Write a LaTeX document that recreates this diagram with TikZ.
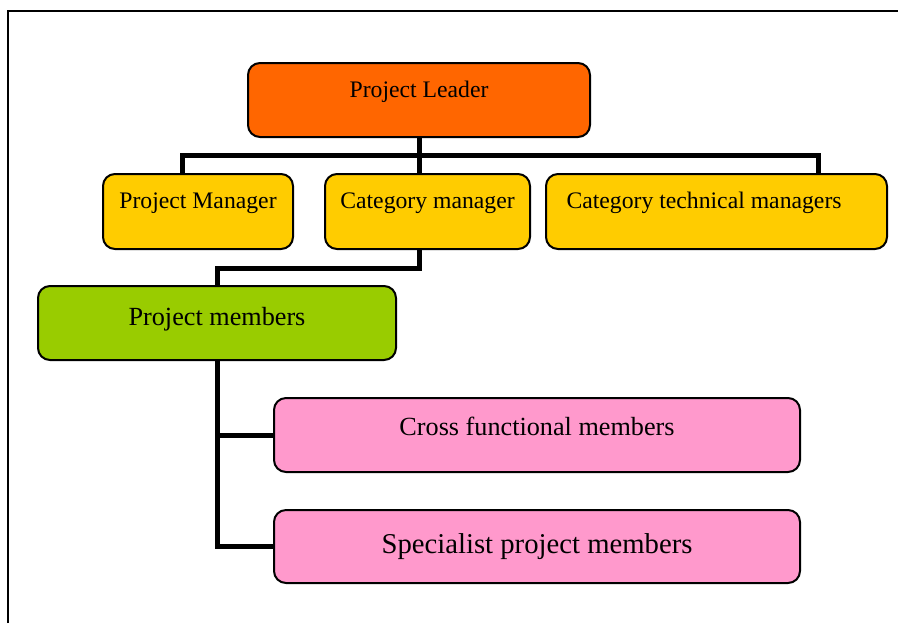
\documentclass[tikz,border=0pt]{standalone}
\usepackage{fontspec}
\setmainfont{Liberation Serif}
\usepackage{tikz}
\usepackage{xcolor}
\definecolor{leadorange}{HTML}{FF6600}
\definecolor{mgryellow}{HTML}{FFCC00}
\definecolor{memgreen}{HTML}{99CC00}
\definecolor{subpink}{HTML}{FF99CC}

\begin{document}
\begin{tikzpicture}[
  x=0.5pt, y=-0.5pt,
  block/.style={rectangle, draw=black, line width=1pt, rounded corners=6pt, align=center, text height=8pt, font=\fontsize{11.85pt}{14pt}\selectfont},
  link/.style={draw=black, line width=2.5pt},
  frame/.style={draw=black, line width=1.2pt}
]
  \useasboundingbox (0,0) rectangle (898,623);
  \draw [frame] (8,623) -- (8,11) -- (898,11);

  \node [block, fill=leadorange, minimum width=171pt, minimum height=37pt, text depth=11pt] (leader) at (419,100) {Project Leader};
  \node [block, fill=mgryellow, minimum width=95pt, minimum height=37.5pt, text depth=11.5pt] (pm) at (198,211.5) {Project Manager};
  \node [block, fill=mgryellow, minimum width=102.5pt, minimum height=37.5pt, text depth=11.5pt] (catman) at (427.5,211.5) {Category manager};
  \node [block, fill=mgryellow, minimum width=170.5pt, minimum height=37.5pt, text depth=11.5pt, text width=150pt, align=flush left] (cattech) at (716.5,211.5) {Category technical managers};
  \node [block, fill=memgreen, minimum width=179pt, minimum height=37pt, text depth=6pt, font=\fontsize{13.1pt}{15pt}\selectfont] (members) at (217,323) {Project members};
  \node [block, fill=subpink, minimum width=263pt, minimum height=37pt, text depth=8pt, font=\fontsize{13.1pt}{15pt}\selectfont] (cross) at (537,435) {Cross functional members};
  \node [block, fill=subpink, minimum width=263pt, minimum height=36.5pt, text depth=1.5pt, font=\fontsize{14.35pt}{17pt}\selectfont] (specialist) at (537,546.5) {Specialist project members};

  \coordinate (bus) at (419,155);

  \draw [link] (leader.south) -- (catman.north -| leader.south);
  \draw [link] ([xshift=-8pt]pm.north) |- (bus) -| ([xshift=50.75pt]cattech.north);
  \draw [link] ([xshift=-4.25pt]catman.south) -- ++(0,-9pt) -| (members.north);
  \draw [link] (members.south) |- (specialist.west);
  \draw [link] (members.south |- cross.west) -- (cross.west);
\end{tikzpicture}
\end{document}
